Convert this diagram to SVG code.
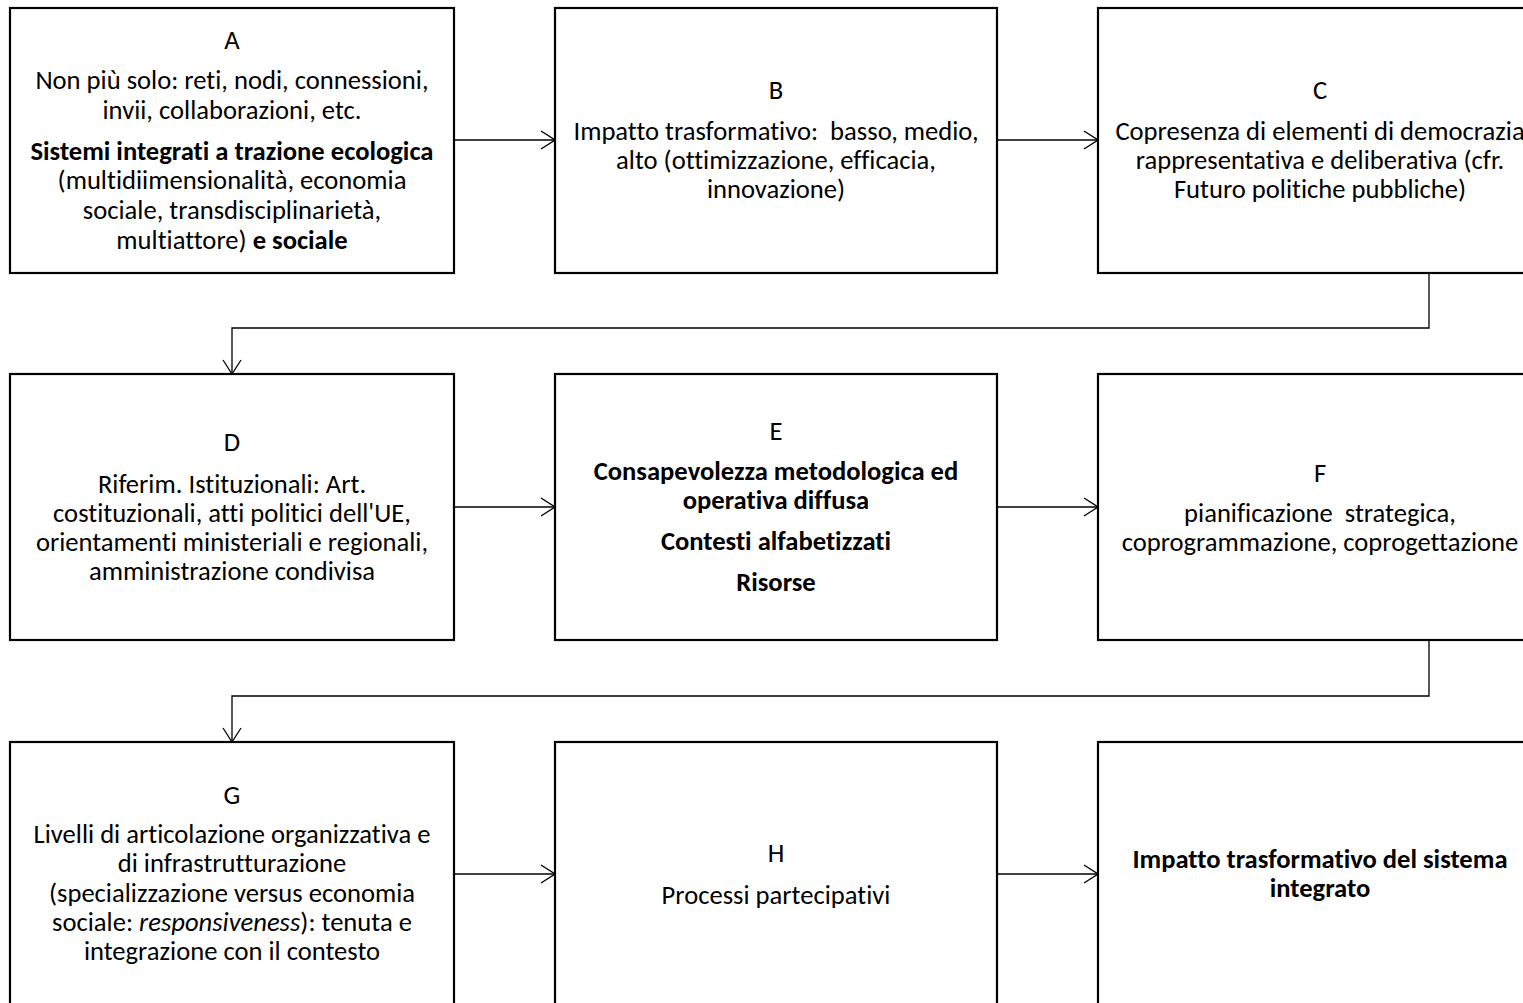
<svg xmlns="http://www.w3.org/2000/svg" width="1523" height="1003" viewBox="0 0 1523 1003">
<style>
  .box { fill: #ffffff; stroke: #000000; stroke-width: 2.2; }
  .conn { fill: none; stroke: #000000; stroke-width: 1.3; }
  text { font-family: Carlito, "Open Sans", "Liberation Sans", sans-serif; font-size: 26.6px; fill: #000000; text-anchor: middle; white-space: pre; font-variant-ligatures: none; }
  .b { font-weight: bold; }
  .i { font-style: italic; }
</style>
<defs>
  <marker id="arr" viewBox="0 0 16 20" refX="15" refY="10" markerWidth="16" markerHeight="20" markerUnits="userSpaceOnUse" orient="auto">
    <path d="M1 1 L15 10 L1 19" fill="none" stroke="#000" stroke-width="1.3"/>
  </marker>
</defs>
<rect width="1523" height="1003" fill="#ffffff"/>

<g id="connectors">
  <line class="conn" x1="454" y1="140" x2="555" y2="140" marker-end="url(#arr)"/>
  <line class="conn" x1="997" y1="140" x2="1098" y2="140" marker-end="url(#arr)"/>
  <path class="conn" d="M1429 273 V328 H232 V374" marker-end="url(#arr)"/>
  <line class="conn" x1="454" y1="507" x2="555" y2="507" marker-end="url(#arr)"/>
  <line class="conn" x1="997" y1="507" x2="1098" y2="507" marker-end="url(#arr)"/>
  <path class="conn" d="M1429 640 V696 H232 V742" marker-end="url(#arr)"/>
  <line class="conn" x1="454" y1="874" x2="555" y2="874" marker-end="url(#arr)"/>
  <line class="conn" x1="997" y1="874" x2="1098" y2="874" marker-end="url(#arr)"/>
</g>

<g id="nodeA">
  <rect class="box" x="10" y="8" width="444" height="265"/>
  <text x="232" y="49">A</text>
  <text x="232" y="89">Non più solo: reti, nodi, connessioni,</text>
  <text x="232" y="119">invii, collaborazioni, etc.</text>
  <text x="232" y="160" class="b">Sistemi integrati a trazione ecologica</text>
  <text x="232" y="189">(multidiimensionalità, economia</text>
  <text x="232" y="219">sociale, transdisciplinarietà,</text>
  <text x="232" y="249">multiattore) <tspan class="b">e sociale</tspan></text>
</g>

<g id="nodeB">
  <rect class="box" x="555" y="8" width="442" height="265"/>
  <text x="776" y="99">B</text>
  <text x="776" y="140">Impatto trasformativo:  basso, medio,</text>
  <text x="776" y="169">alto (ottimizzazione, efficacia,</text>
  <text x="776" y="198">innovazione)</text>
</g>

<g id="nodeC">
  <rect class="box" x="1098" y="8" width="444" height="265"/>
  <text x="1320" y="99">C</text>
  <text x="1320" y="140">Copresenza di elementi di democrazia</text>
  <text x="1320" y="169">rappresentativa e deliberativa (cfr.</text>
  <text x="1320" y="198">Futuro politiche pubbliche)</text>
</g>

<g id="nodeD">
  <rect class="box" x="10" y="374" width="444" height="266"/>
  <text x="232" y="451">D</text>
  <text x="232" y="493">Riferim. Istituzionali: Art.</text>
  <text x="232" y="522">costituzionali, atti politici dell'UE,</text>
  <text x="232" y="551">orientamenti ministeriali e regionali,</text>
  <text x="232" y="580">amministrazione condivisa</text>
</g>

<g id="nodeE">
  <rect class="box" x="555" y="374" width="442" height="266"/>
  <text x="776" y="440">E</text>
  <text x="776" y="480" class="b">Consapevolezza metodologica ed</text>
  <text x="776" y="509" class="b">operativa diffusa</text>
  <text x="776" y="550" class="b">Contesti alfabetizzati</text>
  <text x="776" y="591" class="b">Risorse</text>
</g>

<g id="nodeF">
  <rect class="box" x="1098" y="374" width="444" height="266"/>
  <text x="1320" y="482">F</text>
  <text x="1320" y="522">pianificazione  strategica,</text>
  <text x="1320" y="551">coprogrammazione, coprogettazione</text>
</g>

<g id="nodeG">
  <rect class="box" x="10" y="742" width="444" height="270"/>
  <text x="232" y="804">G</text>
  <text x="232" y="843">Livelli di articolazione organizzativa e</text>
  <text x="232" y="872">di infrastrutturazione</text>
  <text x="232" y="902">(specializzazione versus economia</text>
  <text x="232" y="931">sociale: <tspan class="i">responsiveness</tspan>): tenuta e</text>
  <text x="232" y="960">integrazione con il contesto</text>
</g>

<g id="nodeH">
  <rect class="box" x="555" y="742" width="442" height="270"/>
  <text x="776" y="862">H</text>
  <text x="776" y="904">Processi partecipativi</text>
</g>

<g id="nodeI">
  <rect class="box" x="1098" y="742" width="444" height="270"/>
  <text x="1320" y="868" class="b">Impatto trasformativo del sistema</text>
  <text x="1320" y="897" class="b">integrato</text>
</g>
</svg>
